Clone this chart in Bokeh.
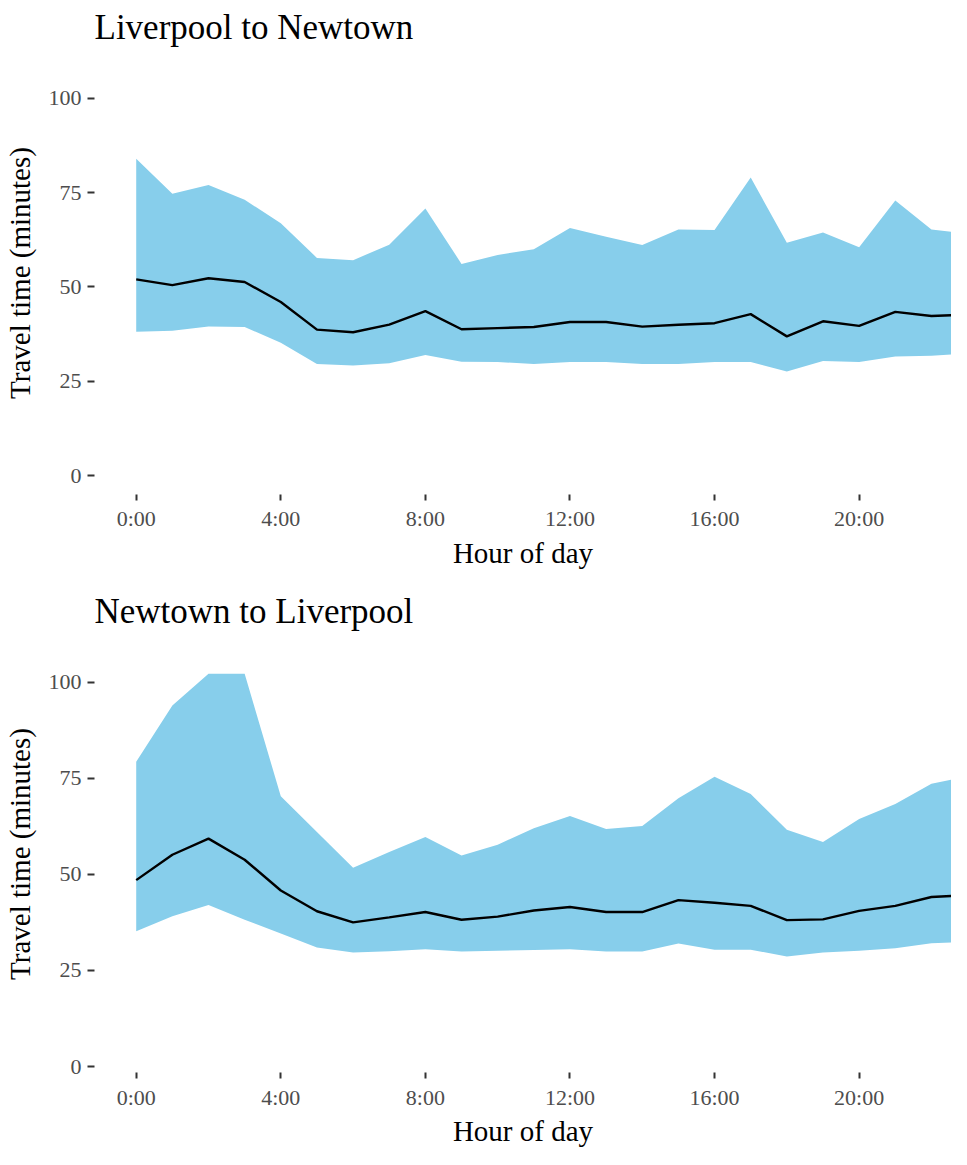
from bokeh.plotting import figure
from bokeh.layouts import column
from bokeh.models import Range1d, FixedTicker
from bokeh.embed import file_html
from bokeh.resources import INLINE

# ---- data ----
hours = list(range(24))

ln_title = "Liverpool to Newtown"
nl_title = "Newtown to Liverpool"

ln_upper = [84.0, 74.7, 77.0, 73.1, 66.9, 57.7, 57.1, 61.2, 70.8, 56.1, 58.5, 60.0,
            65.6, 63.3, 61.1, 65.2, 65.1, 79.0, 61.7, 64.4, 60.5, 72.9, 65.2, 64.1]
ln_median = [52.0, 50.5, 52.3, 51.3, 46.0, 38.7, 38.0, 40.0, 43.6, 38.8, 39.1, 39.4,
             40.7, 40.7, 39.5, 40.0, 40.4, 42.8, 36.9, 40.9, 39.7, 43.4, 42.3, 42.7]
ln_lower = [38.1, 38.4, 39.5, 39.4, 35.2, 29.6, 29.2, 29.8, 32.0, 30.2, 30.1, 29.6,
            30.1, 30.1, 29.6, 29.6, 30.1, 30.1, 27.6, 30.4, 30.1, 31.6, 31.8, 32.3]

nl_upper = [79.3, 93.9, 102.2, 102.2, 70.3, 61.0, 51.7, 55.8, 59.7, 54.9, 57.7, 62.0,
            65.2, 61.8, 62.6, 69.8, 75.4, 70.9, 61.6, 58.4, 64.4, 68.3, 73.6, 75.5]
nl_median = [48.5, 55.1, 59.3, 53.8, 45.8, 40.4, 37.5, 38.8, 40.2, 38.2, 39.0, 40.6,
             41.5, 40.2, 40.2, 43.3, 42.6, 41.8, 38.1, 38.3, 40.5, 41.8, 44.1, 44.6]
nl_lower = [35.2, 39.1, 42.0, 38.2, 34.6, 31.0, 29.7, 30.0, 30.5, 29.9, 30.1, 30.3,
            30.5, 29.9, 29.9, 32.0, 30.4, 30.4, 28.6, 29.7, 30.1, 30.8, 32.1, 32.4]

x_ticks = [0, 4, 8, 12, 16, 20]
x_tick_labels = ["0:00", "4:00", "8:00", "12:00", "16:00", "20:00"]
y_ticks = [0, 25, 50, 75, 100]

FONT = "Liberation Serif"


def make_panel(title, upper, median, lower, height, y_start, y_end,
               border_top, border_bottom, label_standoff, title_standoff):
    p = figure(width=951, height=height, output_backend="svg", toolbar_location=None,
               x_range=Range1d(-1.154, 22.555), y_range=Range1d(y_start, y_end),
               min_border_left=88, min_border_right=0, min_border_top=border_top,
               min_border_bottom=border_bottom, title=title)
    p.title.text_font = FONT
    p.title.text_font_size = "35px"
    p.title.text_font_style = "normal"
    p.title.text_color = "black"
    p.title.align = "left"

    p.varea(x=hours, y1=lower, y2=upper, fill_color="#87CEEB", fill_alpha=1.0)
    p.line(x=hours, y=median, line_color="black", line_width=2.4)

    p.xgrid.visible = False
    p.ygrid.visible = False
    p.outline_line_color = None
    p.background_fill_color = "white"
    p.border_fill_color = "white"

    p.xaxis.ticker = FixedTicker(ticks=x_ticks)
    p.xaxis.major_label_overrides = {t: l for t, l in zip(x_ticks, x_tick_labels)}
    p.yaxis.ticker = FixedTicker(ticks=y_ticks)
    p.xaxis.axis_label = "Hour of day"
    p.yaxis.axis_label = "Travel time (minutes)"

    for ax in (p.xaxis, p.yaxis):
        ax.axis_line_color = None
        ax.major_tick_line_color = "#333333"
        ax.major_tick_line_width = 2
        ax.major_tick_out = 7
        ax.major_tick_in = 0
        ax.minor_tick_line_color = None
        ax.major_label_text_font = FONT
        ax.major_label_text_font_size = "22px"
        ax.major_label_text_color = "#4d4d4d"
        ax.axis_label_text_font = FONT
        ax.axis_label_text_font_size = "29px"
        ax.axis_label_text_font_style = "normal"
        ax.axis_label_text_color = "black"
    p.xaxis.major_tick_out = 6
    p.xaxis.major_label_standoff = label_standoff
    p.xaxis.axis_label_standoff = title_standoff
    p.yaxis.major_label_standoff = 6
    p.yaxis.axis_label_standoff = 10
    return p


# top panel: page y 8..592, frame 48..502
p1 = make_panel(ln_title, ln_upper, ln_median, ln_lower, 584, -5.0, 112.4, 40, 90, 5, 3)
# bottom panel: page y 592..1157, frame 641..1081
p2 = make_panel(nl_title, nl_upper, nl_median, nl_lower, 565, -1.55, 112.14, 49, 76, 6, 2)

layout = column(p1, p2, spacing=0)
open("out.html", "w").write(file_html(layout, INLINE))
